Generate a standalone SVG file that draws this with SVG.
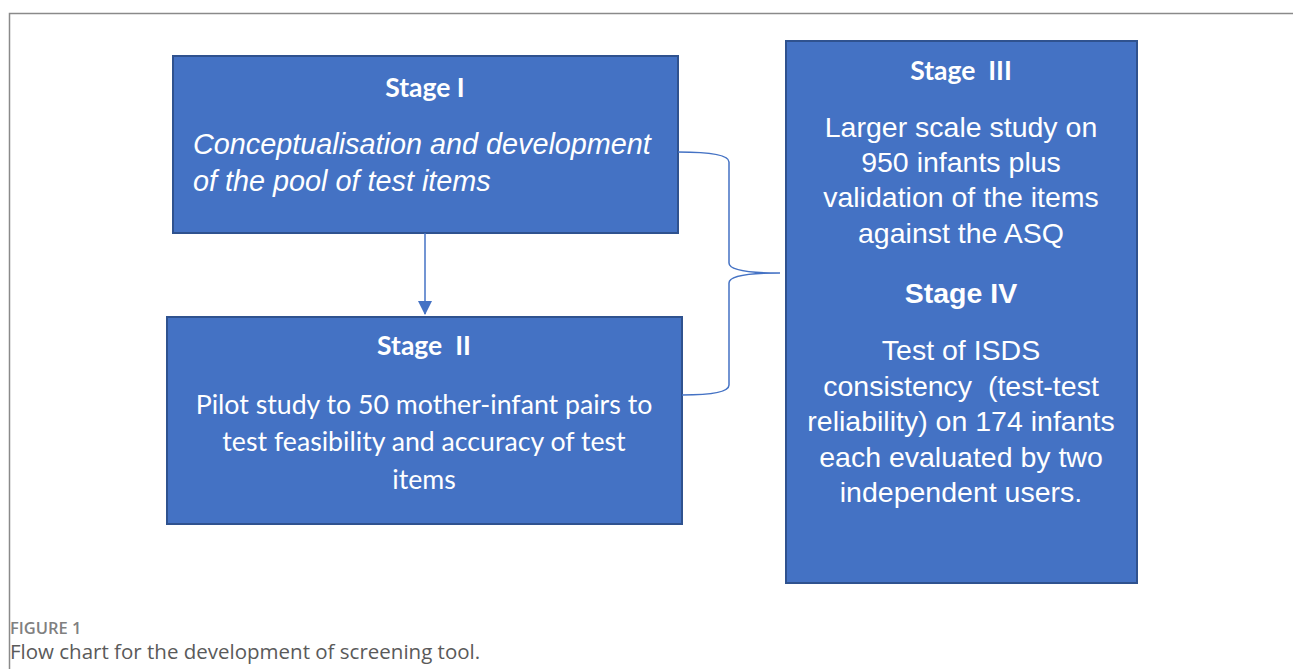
<svg xmlns="http://www.w3.org/2000/svg" width="1293" height="669" viewBox="0 0 1293 669">
<style>
.box{fill:#4472C4;stroke:#2F528F;stroke-width:2}
.t{fill:#fff;text-anchor:middle}
.cal{font-family:Lato,"Open Sans",sans-serif}
.ar{font-family:"Liberation Sans",Arial,sans-serif}
.conn{fill:none;stroke:#4472C4;stroke-width:1.5}
</style>
<defs>
<marker id="ah" markerWidth="15" markerHeight="15" refX="13" refY="7" orient="auto" markerUnits="userSpaceOnUse">
<path d="M0,0 L14,7 L0,14 z" fill="#4472C4"/>
</marker>
</defs>
<g id="frame">
<path d="M9.5,669 V13.5 H1293" fill="none" stroke="#8a8a8a" stroke-width="1.5"/>
</g>
<g id="stage1">
<rect class="box" x="173" y="56" width="505" height="177"/>
<text class="t cal" x="425" y="97" font-size="26.5" font-weight="700">Stage I</text>
<text class="ar" x="193" y="154" font-size="28.8" font-style="italic" fill="#fff">Conceptualisation and development</text>
<text class="ar" x="193" y="191" font-size="28.8" font-style="italic" fill="#fff">of the pool of test items</text>
</g>
<g id="stage2">
<rect class="box" x="167" y="317" width="515" height="207"/>
<text class="t cal" x="424" y="355" font-size="26.5" font-weight="700" xml:space="preserve">Stage  II</text>
<text class="t cal" x="424" y="414" font-size="26.7">Pilot study to 50 mother-infant pairs to</text>
<text class="t cal" x="424" y="451" font-size="26.7">test feasibility and accuracy of test</text>
<text class="t cal" x="424" y="489" font-size="26.7">items</text>
</g>
<g id="stage3">
<rect class="box" x="786" y="41" width="351" height="542"/>
<text class="t cal" x="961" y="80" font-size="26.5" font-weight="700" xml:space="preserve">Stage  III</text>
<text class="t ar" x="961" y="137" font-size="28.5">Larger scale study on</text>
<text class="t ar" x="961" y="172" font-size="28.5">950 infants plus</text>
<text class="t ar" x="961" y="207" font-size="28.5">validation of the items</text>
<text class="t ar" x="961" y="243" font-size="28.5">against the ASQ</text>
<text class="t ar" x="961" y="303" font-size="28.5" font-weight="700">Stage IV</text>
<text class="t ar" x="961" y="360" font-size="28.5">Test of ISDS</text>
<text class="t ar" x="961" y="396" font-size="28.5" xml:space="preserve">consistency  (test-test</text>
<text class="t ar" x="961" y="431" font-size="28.5">reliability) on 174 infants</text>
<text class="t ar" x="961" y="467" font-size="28.5">each evaluated by two</text>
<text class="t ar" x="961" y="502" font-size="28.5">independent users.</text>
</g>
<g id="connectors">
<line class="conn" x1="425" y1="233" x2="425" y2="314" marker-end="url(#ah)"/>
<path class="conn" d="M678,152 Q729,152 729,162 V263 Q729,273 780,273 Q729,273 729,283 V385 Q729,395 682,395"/>
</g>
<g id="caption">
<text x="10" y="634" font-family="'Open Sans',sans-serif" font-size="16.5" font-weight="600" fill="#808080">FIGURE 1</text>
<text x="10" y="659" font-family="'Open Sans',sans-serif" font-size="20.5" fill="#5a5a5a">Flow chart for the development of screening tool.</text>
</g>
</svg>
